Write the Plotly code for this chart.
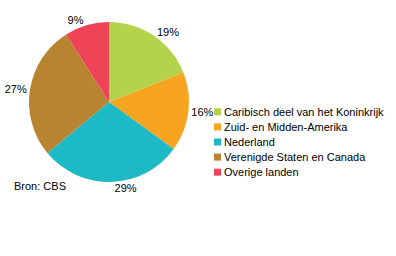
import plotly.graph_objects as go

labels = ["Caribisch deel van het Koninkrijk", "Zuid- en Midden-Amerika", "Nederland",
          "Verenigde Staten en Canada", "Overige landen"]
values = [19, 16, 29, 27, 9]
colors = ["#b3d44a", "#f7a520", "#1dbac6", "#b88432", "#ef4358"]

W, H = 396, 256
FONT = "Liberation Sans, Arial, sans-serif"

fig = go.Figure()
fig.add_trace(go.Pie(
    labels=labels, values=values, sort=False, direction="clockwise", rotation=0,
    marker=dict(colors=colors, line=dict(width=0)),
    texttemplate="%{value}%", textposition="outside",
    textfont=dict(family=FONT, size=11, color="#000"),
    domain=dict(x=[29/W, 189/W], y=[1-182/H, 1-22/H]),
    hoverinfo="label+percent", showlegend=False,
))

# manual legend (compact rows)
shapes, annotations = [], []
y0, step = 111.8, 15.1
for i, (lab, col) in enumerate(zip(labels, colors)):
    yc = y0 + i * step
    shapes.append(dict(type="rect", xref="paper", yref="paper",
                       x0=214/W, x1=221/W, y0=1-(yc+3.5)/H, y1=1-(yc-3.5)/H,
                       fillcolor=col, line=dict(width=0)))
    annotations.append(dict(text=lab, x=222/W, y=1-yc/H, xref="paper", yref="paper",
                            xanchor="left", yanchor="middle", showarrow=False,
                            font=dict(family=FONT, size=11, color="#000")))

annotations.append(dict(text="Bron: CBS", x=12/W, y=1-186/H, xref="paper", yref="paper",
                        xanchor="left", yanchor="middle", showarrow=False,
                        font=dict(family=FONT, size=11, color="#000")))

fig.update_layout(
    width=W, height=H, margin=dict(l=0, r=0, t=0, b=0),
    paper_bgcolor="white", plot_bgcolor="white",
    font=dict(family=FONT, size=11, color="#000"),
    showlegend=False, shapes=shapes, annotations=annotations,
)
fig.write_html("out.html")
